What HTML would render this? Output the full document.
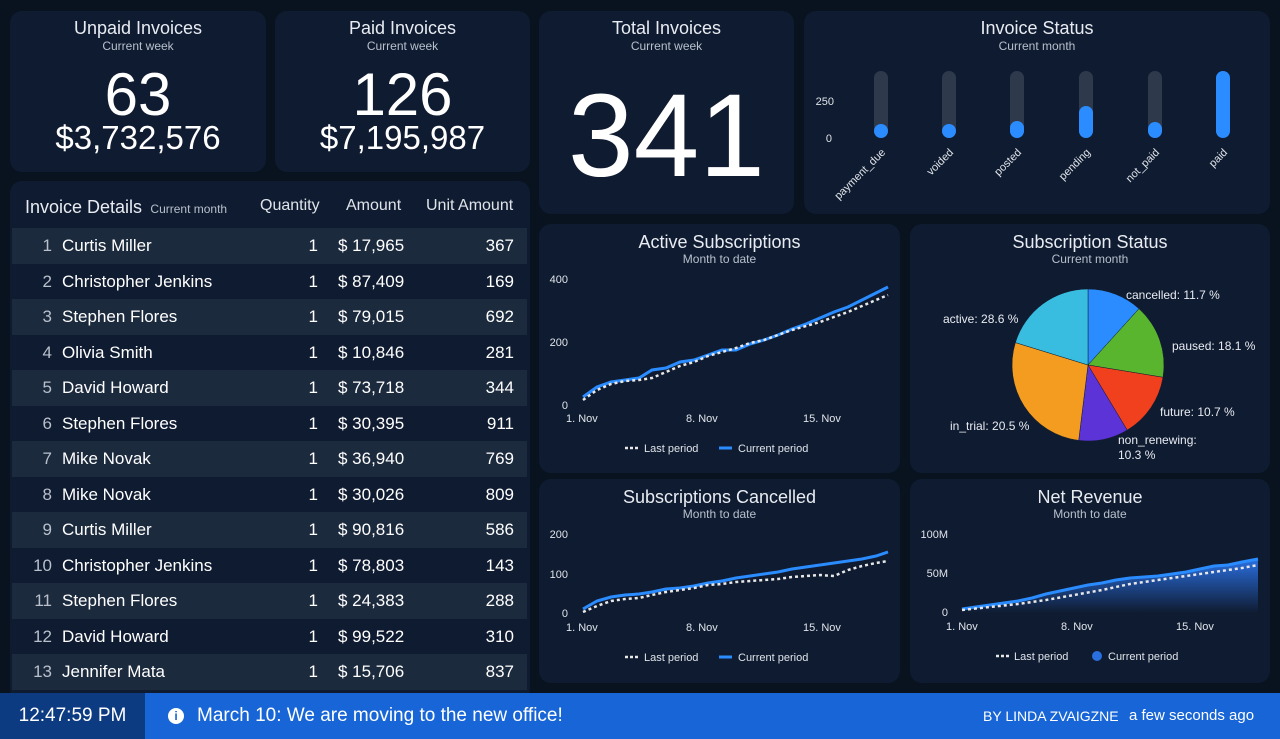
<!DOCTYPE html>
<html><head><meta charset="utf-8"><style>
*{margin:0;padding:0;box-sizing:border-box}
body{width:1280px;height:739px;background:#08131f;font-family:"Liberation Sans",sans-serif;color:#fff;position:relative;overflow:hidden}
.c{position:absolute;background:#0f1b30;border-radius:12px}
.t{position:absolute;left:0;right:0;text-align:center;font-size:18px;color:#e8ecf2}
.s{position:absolute;left:0;right:0;text-align:center;font-size:12px;color:#b8c0cc}
.row{position:absolute;left:12px;width:515px;height:35.5px;font-size:17px}
.row span{position:absolute;top:8px}
.odd{background:#1c2a3e}
.big{position:absolute;left:0;right:0;text-align:center;line-height:1}
</style></head><body>

<div class="c" style="left:10px;top:11px;width:256px;height:161px">
<div class="t" style="top:7px">Unpaid Invoices</div><div class="s" style="top:28px">Current week</div>
<div class="big" style="top:54px;font-size:60px">63</div>
<div class="big" style="top:110px;font-size:33px">$3,732,576</div></div>

<div class="c" style="left:275px;top:11px;width:255px;height:161px">
<div class="t" style="top:7px">Paid Invoices</div><div class="s" style="top:28px">Current week</div>
<div class="big" style="top:54px;font-size:60px">126</div>
<div class="big" style="top:110px;font-size:33px">$7,195,987</div></div>

<div class="c" style="left:539px;top:11px;width:255px;height:203px">
<div class="t" style="top:7px">Total Invoices</div><div class="s" style="top:28px">Current week</div>
<div class="big" style="top:66px;font-size:118px">341</div></div>

<div class="c" style="left:804px;top:11px;width:466px;height:203px">
<div class="t" style="top:7px">Invoice Status</div><div class="s" style="top:28px">Current month</div>
<svg style="position:absolute;left:0;top:0" width="466" height="203" font-size="11" fill="#dfe4ea">
<text x="30" y="94" text-anchor="end">250</text><text x="28" y="131" text-anchor="end">0</text>
<g stroke-linecap="round" stroke-width="14">
<line x1="77" y1="67" x2="77" y2="120" stroke="#2e3a4c"/><line x1="77" y1="120" x2="77" y2="120" stroke="#2a8cff"/>
<line x1="145" y1="67" x2="145" y2="120" stroke="#2e3a4c"/><line x1="145" y1="120" x2="145" y2="120" stroke="#2a8cff"/>
<line x1="213" y1="67" x2="213" y2="120" stroke="#2e3a4c"/><line x1="213" y1="117" x2="213" y2="120" stroke="#2a8cff"/>
<line x1="282" y1="67" x2="282" y2="120" stroke="#2e3a4c"/><line x1="282" y1="102" x2="282" y2="120" stroke="#2a8cff"/>
<line x1="351" y1="67" x2="351" y2="120" stroke="#2e3a4c"/><line x1="351" y1="118" x2="351" y2="120" stroke="#2a8cff"/>
<line x1="419" y1="67" x2="419" y2="120" stroke="#2a8cff"/></g>
<g text-anchor="end">
<text transform="translate(82,142) rotate(-45)">payment_due</text>
<text transform="translate(150,142) rotate(-45)">voided</text>
<text transform="translate(218,142) rotate(-45)">posted</text>
<text transform="translate(287,142) rotate(-45)">pending</text>
<text transform="translate(356,142) rotate(-45)">not_paid</text>
<text transform="translate(424,142) rotate(-45)">paid</text></g></svg></div>

<div class="c" style="left:10px;top:181px;width:520px;height:520px;overflow:hidden">
<div style="position:absolute;left:15px;top:16px;font-size:18px;color:#e8ecf2">Invoice Details <span style="font-size:12px;color:#b8c0cc">&nbsp;Current month</span></div>
<div style="position:absolute;left:250px;top:16px;font-size:16px;color:#dfe4ea">Quantity</div>
<div style="position:absolute;left:336px;top:16px;font-size:16px;color:#dfe4ea">Amount</div>
<div style="position:absolute;left:416px;top:16px;font-size:16px;color:#dfe4ea">Unit Amount</div>
</div>

<div class="c" style="left:539px;top:224px;width:361px;height:249px">
<div class="t" style="top:8px">Active Subscriptions</div><div class="s" style="top:28px">Month to date</div></div>
<div class="c" style="left:910px;top:224px;width:360px;height:249px">
<div class="t" style="top:8px">Subscription Status</div><div class="s" style="top:28px">Current month</div></div>
<div class="c" style="left:539px;top:479px;width:361px;height:204px">
<div class="t" style="top:8px">Subscriptions Cancelled</div><div class="s" style="top:28px">Month to date</div></div>
<div class="c" style="left:910px;top:479px;width:360px;height:204px">
<div class="t" style="top:8px">Net Revenue</div><div class="s" style="top:28px">Month to date</div></div>

<svg style="position:absolute;left:0;top:0" width="1280" height="739" font-size="11" fill="#dfe4ea" font-family="Liberation Sans">
<defs><linearGradient id="g" x1="0" y1="0" x2="0" y2="1"><stop offset="0" stop-color="#2a6fe0"/><stop offset="1" stop-color="#0f1b30"/></linearGradient></defs>
<text x="568" y="283" text-anchor="end">400</text><text x="568" y="346" text-anchor="end">200</text><text x="568" y="409" text-anchor="end">0</text>
<text x="566" y="422">1. Nov</text><text x="686" y="422">8. Nov</text><text x="803" y="422">15. Nov</text>
<polyline fill="none" stroke="#2a8cff" stroke-width="3" points="583,397 597,387 611,382 625,380 639,378 652,370 666,368 680,362 694,360 708,355 722,350 736,350 750,344 764,340 778,335 792,329 806,324 820,318 834,312 848,307 862,300 876,293 888,287"/>
<polyline fill="none" stroke="#e8e8e8" stroke-width="2.5" stroke-dasharray="3,3" points="583,400 597,390 611,384 625,381 639,380 652,378 666,372 680,366 694,362 708,356 722,352 736,348 750,343 764,340 778,335 792,330 806,326 820,322 834,317 848,312 862,306 876,300 888,295"/>
<line x1="625" y1="448" x2="638" y2="448" stroke="#e8e8e8" stroke-width="2.5" stroke-dasharray="3,2"/><text x="644" y="452">Last period</text>
<line x1="719" y1="448" x2="732" y2="448" stroke="#2a8cff" stroke-width="3"/><text x="738" y="452">Current period</text>
<text x="568" y="538" text-anchor="end">200</text><text x="568" y="578" text-anchor="end">100</text><text x="568" y="617" text-anchor="end">0</text>
<text x="566" y="631">1. Nov</text><text x="686" y="631">8. Nov</text><text x="803" y="631">15. Nov</text>
<polyline fill="none" stroke="#2a8cff" stroke-width="3" points="583,609 597,601 611,597 625,595 639,594 652,592 666,589 680,588 694,586 708,583 722,581 736,578 750,576 764,574 778,572 792,569 806,567 820,565 834,563 848,561 862,559 876,556 888,552"/>
<polyline fill="none" stroke="#e8e8e8" stroke-width="2.5" stroke-dasharray="3,3" points="583,612 597,606 611,601 625,599 639,598 652,595 666,592 680,590 694,588 708,585 722,584 736,582 750,581 764,580 778,579 792,577 806,576 820,575 834,576 848,570 862,566 876,563 888,561"/>
<line x1="625" y1="657" x2="638" y2="657" stroke="#e8e8e8" stroke-width="2.5" stroke-dasharray="3,2"/><text x="644" y="661">Last period</text>
<line x1="719" y1="657" x2="732" y2="657" stroke="#2a8cff" stroke-width="3"/><text x="738" y="661">Current period</text>
<text x="948" y="538" text-anchor="end">100M</text><text x="948" y="577" text-anchor="end">50M</text><text x="948" y="616" text-anchor="end">0</text>
<text x="946" y="630">1. Nov</text><text x="1061" y="630">8. Nov</text><text x="1176" y="630">15. Nov</text>
<polygon fill="url(#g)" points="962,609 976,607 990,605 1004,603 1018,601 1032,598 1046,594 1060,591 1074,588 1088,585 1102,583 1116,580 1130,578 1144,577 1158,576 1172,574 1186,572 1200,569 1214,566 1228,565 1242,562 1258,559 1258,613 962,613"/>
<polyline fill="none" stroke="#2a8cff" stroke-width="3" points="962,609 976,607 990,605 1004,603 1018,601 1032,598 1046,594 1060,591 1074,588 1088,585 1102,583 1116,580 1130,578 1144,577 1158,576 1172,574 1186,572 1200,569 1214,566 1228,565 1242,562 1258,559"/>
<polyline fill="none" stroke="#e8e8e8" stroke-width="2.5" stroke-dasharray="3,3" points="962,610 990,607 1018,604 1046,600 1074,595 1102,590 1130,584 1158,580 1186,576 1214,572 1242,568 1258,565"/>
<line x1="996" y1="656" x2="1009" y2="656" stroke="#e8e8e8" stroke-width="2.5" stroke-dasharray="3,2"/><text x="1014" y="660">Last period</text>
<circle cx="1097" cy="656" r="5" fill="#2a6fe0"/><text x="1108" y="660">Current period</text>
<g transform="translate(1088,365)" stroke="#0f1b30" stroke-width="0.5">
<path fill="#2a8cff" d="M0,0 L0,-76 A76,76 0 0 1 51.0,-56.3Z"/>
<path fill="#5ab52e" d="M0,0 L51.0,-56.3 A76,76 0 0 1 75.0,12.3Z"/>
<path fill="#f0401e" d="M0,0 L75.0,12.3 A76,76 0 0 1 39.2,65.1Z"/>
<path fill="#5b33d6" d="M0,0 L39.2,65.1 A76,76 0 0 1 -9.3,75.4Z"/>
<path fill="#f39c1f" d="M0,0 L-9.3,75.4 A76,76 0 0 1 -72.6,-22.4Z"/>
<path fill="#38bde0" d="M0,0 L-72.6,-22.4 A76,76 0 0 1 0,-76Z"/>
</g>
<g font-size="12" fill="#e8ecf2">
<text x="1126" y="299">cancelled: 11.7 %</text><text x="1172" y="350">paused: 18.1 %</text>
<text x="1160" y="416">future: 10.7 %</text><text x="1118" y="444">non_renewing:</text><text x="1118" y="459">10.3 %</text>
<text x="950" y="430">in_trial: 20.5 %</text><text x="943" y="323">active: 28.6 %</text></g>
</svg>

<div style="position:absolute;left:0;top:0">
<div class="row odd" style="top:228px"><span style="left:20px;width:20px;text-align:right;color:#b8c0cc">1</span><span style="left:50px">Curtis Miller</span><span style="left:290px;width:16px;text-align:right">1</span><span style="left:326px">$ 17,965</span><span style="left:440px;width:62px;text-align:right">367</span></div>
<div class="row" style="top:263.5px"><span style="left:20px;width:20px;text-align:right;color:#b8c0cc">2</span><span style="left:50px">Christopher Jenkins</span><span style="left:290px;width:16px;text-align:right">1</span><span style="left:326px">$ 87,409</span><span style="left:440px;width:62px;text-align:right">169</span></div>
<div class="row odd" style="top:299px"><span style="left:20px;width:20px;text-align:right;color:#b8c0cc">3</span><span style="left:50px">Stephen Flores</span><span style="left:290px;width:16px;text-align:right">1</span><span style="left:326px">$ 79,015</span><span style="left:440px;width:62px;text-align:right">692</span></div>
<div class="row" style="top:334.5px"><span style="left:20px;width:20px;text-align:right;color:#b8c0cc">4</span><span style="left:50px">Olivia Smith</span><span style="left:290px;width:16px;text-align:right">1</span><span style="left:326px">$ 10,846</span><span style="left:440px;width:62px;text-align:right">281</span></div>
<div class="row odd" style="top:370px"><span style="left:20px;width:20px;text-align:right;color:#b8c0cc">5</span><span style="left:50px">David Howard</span><span style="left:290px;width:16px;text-align:right">1</span><span style="left:326px">$ 73,718</span><span style="left:440px;width:62px;text-align:right">344</span></div>
<div class="row" style="top:405.5px"><span style="left:20px;width:20px;text-align:right;color:#b8c0cc">6</span><span style="left:50px">Stephen Flores</span><span style="left:290px;width:16px;text-align:right">1</span><span style="left:326px">$ 30,395</span><span style="left:440px;width:62px;text-align:right">911</span></div>
<div class="row odd" style="top:441px"><span style="left:20px;width:20px;text-align:right;color:#b8c0cc">7</span><span style="left:50px">Mike Novak</span><span style="left:290px;width:16px;text-align:right">1</span><span style="left:326px">$ 36,940</span><span style="left:440px;width:62px;text-align:right">769</span></div>
<div class="row" style="top:476.5px"><span style="left:20px;width:20px;text-align:right;color:#b8c0cc">8</span><span style="left:50px">Mike Novak</span><span style="left:290px;width:16px;text-align:right">1</span><span style="left:326px">$ 30,026</span><span style="left:440px;width:62px;text-align:right">809</span></div>
<div class="row odd" style="top:512px"><span style="left:20px;width:20px;text-align:right;color:#b8c0cc">9</span><span style="left:50px">Curtis Miller</span><span style="left:290px;width:16px;text-align:right">1</span><span style="left:326px">$ 90,816</span><span style="left:440px;width:62px;text-align:right">586</span></div>
<div class="row" style="top:547.5px"><span style="left:20px;width:20px;text-align:right;color:#b8c0cc">10</span><span style="left:50px">Christopher Jenkins</span><span style="left:290px;width:16px;text-align:right">1</span><span style="left:326px">$ 78,803</span><span style="left:440px;width:62px;text-align:right">143</span></div>
<div class="row odd" style="top:583px"><span style="left:20px;width:20px;text-align:right;color:#b8c0cc">11</span><span style="left:50px">Stephen Flores</span><span style="left:290px;width:16px;text-align:right">1</span><span style="left:326px">$ 24,383</span><span style="left:440px;width:62px;text-align:right">288</span></div>
<div class="row" style="top:618.5px"><span style="left:20px;width:20px;text-align:right;color:#b8c0cc">12</span><span style="left:50px">David Howard</span><span style="left:290px;width:16px;text-align:right">1</span><span style="left:326px">$ 99,522</span><span style="left:440px;width:62px;text-align:right">310</span></div>
<div class="row odd" style="top:654px"><span style="left:20px;width:20px;text-align:right;color:#b8c0cc">13</span><span style="left:50px">Jennifer Mata</span><span style="left:290px;width:16px;text-align:right">1</span><span style="left:326px">$ 15,706</span><span style="left:440px;width:62px;text-align:right">837</span></div>
</div>
<div style="position:absolute;left:0;top:693px;width:1280px;height:46px;background:#1765d6"></div>
<div style="position:absolute;left:0;top:693px;width:145px;height:46px;background:#0d3b82;font-size:19px;text-align:center;line-height:46px">12:47:59 PM</div>
<div style="position:absolute;left:168px;top:708px;width:16px;height:16px;border-radius:50%;background:#fff;color:#1765d6;font-size:12px;font-weight:bold;text-align:center;line-height:16px">i</div>
<div style="position:absolute;left:197px;top:693px;line-height:46px;font-size:19px">March 10: We are moving to the new office!</div>
<div style="position:absolute;left:983px;top:693px;line-height:46px;font-size:14px">BY LINDA ZVAIGZNE</div>
<div style="position:absolute;left:1129px;top:693px;line-height:46px;font-size:15px">a few seconds ago</div>
</body></html>
